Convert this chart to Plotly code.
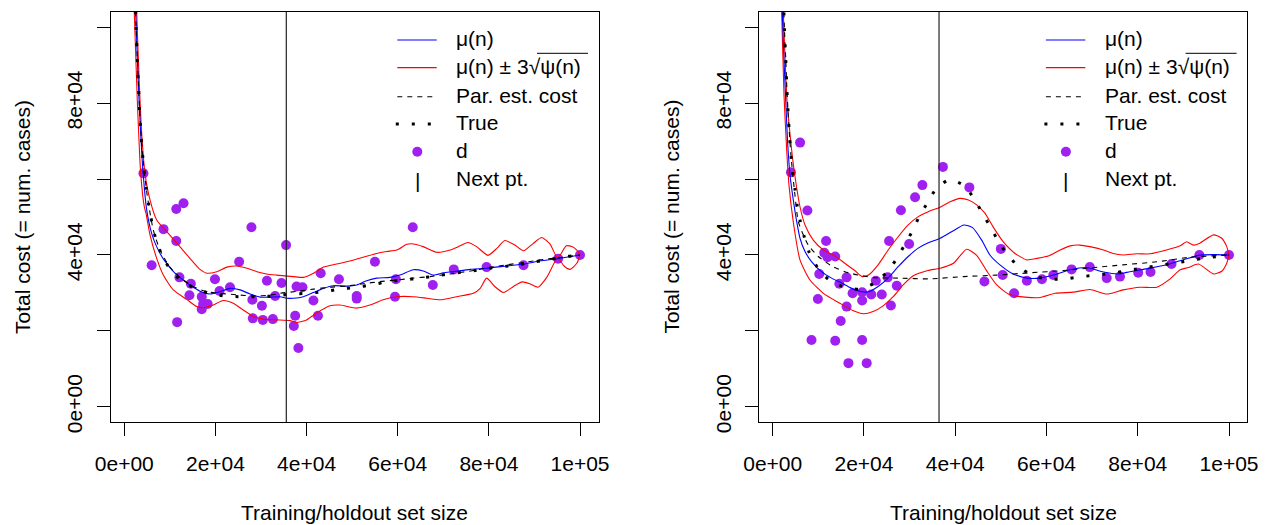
import plotly.graph_objects as go

# ---------------- left panel ----------------
l_pts_n = [4200, 6000, 8600, 11400, 13000, 11400, 11600, 12100, 14600, 14300, 17000, 17300,
           18300, 17000, 19900, 20900, 23200, 25200, 27900, 28100, 28200, 30200, 30400, 31300,
           32600, 33100, 34500, 35500, 37200, 37500, 37800, 39100, 38200, 41500, 42500, 43100,
           47100, 51000, 51000, 55000, 59400, 59600, 63300, 67700, 72300, 79500, 87600, 95200,
           100000]
l_pts_cost = [61500, 37300, 46800, 52100, 53600, 43700, 22300, 34100, 32400, 29400, 29000, 27100,
              27100, 25700, 33600, 30500, 31500, 38200, 47300, 28200, 23300, 26600, 22900, 33200,
              23100, 29200, 32600, 42600, 21300, 24000, 31700, 31500, 15500, 28000, 24000, 35200,
              33600, 29200, 28500, 38200, 29000, 33600, 47300, 32100, 36200, 36800, 37300, 39000,
              40000]

l_mu_n = [2000, 2500, 2850, 3160, 3510, 4040, 4900, 6000, 7100, 8600, 10800, 12900, 15100, 17300,
          18800, 21000, 23200, 25400, 27600, 29800, 32000, 34200, 35600, 37100, 39300, 41500,
          43700, 45900, 48800, 51000, 53200, 55400, 58300, 60500, 63400, 65600, 67800, 70000,
          72200, 75900, 79500, 83900, 87600, 91200, 94900, 100000]
l_mu = [126500, 104000, 92000, 83000, 74000, 63000, 52000, 45700, 42200, 38900, 35600, 33400,
        31500, 30100, 29700, 30300, 31200, 30800, 29700, 28900, 28900, 29000, 28600, 28600, 29000,
        30100, 31200, 31900, 31800, 32100, 33200, 33900, 34100, 34700, 36100, 35800, 34700, 35300,
        35600, 36200, 36500, 37100, 37600, 38400, 39000, 40000]

l_up_n = [2000, 2720, 3290, 3820, 4540, 5640, 7110, 10000, 12200, 14400, 16600, 18100, 20300,
          22500, 24700, 26900, 29100, 31200, 33400, 37100, 39300, 41500, 43700, 46600, 49500,
          52400, 55400, 57600, 59800, 62000, 63400, 65600, 68600, 71500, 73700, 75400, 77300,
          79800, 81800, 83500, 85700, 87600, 89700, 91600, 93400, 95100, 97000, 98200, 99300,
          100000]
l_up = [135000, 103900, 85200, 72000, 61500, 54500, 49200, 45200, 42200, 39100, 36200, 35200,
        35600, 36800, 37100, 36500, 35600, 35000, 34700, 34300, 34100, 35200, 36800, 37600, 38400,
        39400, 40400, 40900, 41300, 42800, 42900, 42200, 40700, 41300, 42400, 43300, 42200, 39900,
        41800, 43800, 42600, 41100, 43000, 44600, 42900, 39200, 42400, 42200, 41300, 40000]

l_lo_n = [1900, 2190, 2850, 3600, 4390, 4760, 5640, 7110, 8560, 10750, 13700, 15900, 17300, 19500,
          21700, 23900, 26100, 28300, 30500, 33400, 36400, 37800, 40000, 42200, 45100, 47300,
          51000, 53900, 56800, 59800, 63400, 66400, 69300, 72900, 76600, 78100, 79500, 81300,
          83200, 85400, 87300, 89000, 90800, 92700, 95100, 96500, 97800, 99300, 100000]
l_lo = [112000, 103900, 80800, 61500, 52700, 51000, 45300, 39100, 34700, 30800, 28300, 26400,
        26100, 26800, 28000, 27300, 25500, 23800, 23100, 22900, 22700, 22200, 22900, 24700, 26600,
        26800, 26000, 26800, 28200, 29000, 29000, 28600, 28200, 29000, 29900, 31200, 33900, 31700,
        30100, 31700, 32900, 32400, 31500, 34100, 39200, 37100, 36200, 37800, 40000]

l_par_n = [2000, 2570, 2850, 3160, 3510, 4040, 4830, 5350, 6360, 7830, 10000, 12200, 15100, 18100,
           21000, 24700, 28300, 32000, 34200, 37800, 41500, 45100, 48800, 52400, 56100, 59800,
           63400, 67100, 71500, 76600, 80200, 83900, 87600, 91200, 94900, 100000]
l_par = [125300, 100500, 91800, 83200, 74700, 66100, 57400, 53200, 46600, 41300, 36800, 34100,
         31700, 30300, 29900, 29500, 29200, 29400, 29900, 30400, 31000, 31500, 31800, 32400, 33000,
         33400, 33900, 34300, 35000, 35900, 36700, 37400, 38000, 38700, 39200, 40000]

l_true_n = [2000, 2570, 2850, 3160, 3510, 4040, 4830, 5350, 6010, 6800, 7990, 9740, 12100, 15000,
            18700, 22100, 25800, 29300, 32900, 36700, 40200, 43700, 47200, 50800, 54300, 57800,
            61200, 64900, 68600, 72200, 75900, 79300, 82900, 86500, 90100, 93800, 97200, 100000]
l_true = [125300, 100500, 91800, 83200, 74700, 66100, 57400, 53200, 48800, 44700, 40700, 36800,
          33600, 31500, 29900, 29200, 29000, 29000, 29200, 29700, 29900, 30300, 31000, 31500,
          32100, 33000, 33400, 33900, 34500, 35200, 35700, 36400, 36900, 37400, 38200, 38900,
          39600, 40000]

l_next = 35550

# ---------------- right panel ----------------
r_pts_n = [6000, 4000, 7600, 11700, 11300, 12000, 13700, 10200, 9900, 8500, 13700, 14900, 16200,
           16600, 14600, 16200, 17500, 19600, 19600, 21600, 19600, 20600, 22600, 23900, 25200,
           25900, 27200, 25500, 28100, 29900, 31200, 32800, 37300, 43100, 46400, 50000, 50400,
           52900, 55700, 59000, 61500, 65500, 69500, 73200, 76100, 80100, 82800, 87400, 93500,
           100000]
r_pts_cost = [69600, 61800, 51700, 43700, 40600, 39400, 39600, 35000, 28400, 17600, 17400, 22600,
              26400, 11500, 32400, 34100, 29900, 30200, 28000, 29600, 17600, 11500, 33200, 29600,
              34100, 26700, 31900, 43700, 51800, 42900, 55200, 58400, 63200, 57800, 33000, 41600,
              34700, 29900, 33200, 33600, 34700, 36200, 36800, 33900, 34300, 35300, 35500, 37600,
              40000, 40000]

r_mu_n = [1900, 2100, 2480, 2850, 3240, 3790, 4510, 5260, 5980, 7080, 8550, 10700, 12900, 15100,
          17300, 19500, 21000, 23100, 25300, 27500, 29700, 31900, 34100, 36700, 39600, 41900,
          43800, 45800, 47600, 49800, 52700, 55700, 58600, 61500, 65200, 68800, 72500, 75700,
          78300, 81200, 84200, 87100, 90000, 93300, 96600, 100000]
r_mu = [110000, 103900, 91300, 80800, 70300, 61100, 54500, 48800, 44400, 40900, 38200, 35600,
        33900, 32600, 31200, 30300, 30300, 31700, 33900, 36900, 39600, 41800, 43200, 44400, 46400,
        47900, 47200, 43900, 40000, 37400, 35000, 33900, 33900, 34700, 36100, 36700, 35500, 35000,
        35600, 36200, 36900, 37700, 38700, 39900, 40100, 40000]

r_up_n = [1900, 2320, 3130, 4160, 4890, 5980, 7080, 8900, 11100, 13700, 15800, 18000, 19600,
          21000, 23100, 25300, 27500, 29700, 31900, 34100, 36700, 38900, 41000, 42900, 44700,
          46500, 48300, 50500, 53100, 55700, 57900, 60400, 63000, 65200, 67300, 69500, 72500,
          74600, 76800, 79800, 82700, 86300, 89300, 90700, 92200, 93600, 96600, 98400, 99500,
          100000]
r_up = [118000, 103900, 80800, 67600, 60600, 52700, 47900, 43900, 41300, 39700, 37800, 35900,
        34300, 34700, 37400, 41300, 44800, 47900, 50100, 51400, 52600, 54000, 54900, 54500, 53200,
        51000, 47400, 43500, 40400, 38700, 39100, 39700, 41300, 42400, 42600, 42200, 41300, 40400,
        40000, 40300, 40300, 41300, 42400, 43500, 42600, 43100, 45300, 44400, 42200, 40000]

r_lo_n = [1800, 1970, 2480, 3070, 3570, 4510, 5980, 8170, 11100, 14700, 17700, 19900, 22000,
          24200, 26400, 28600, 30800, 34000, 36700, 39600, 41000, 42500, 44700, 46900, 49100,
          52000, 55300, 58600, 61900, 65900, 69500, 73200, 76800, 80500, 84200, 87100, 89300,
          91100, 93300, 96600, 98400, 99500, 100000]
r_lo = [112000, 103900, 82100, 67600, 58400, 48700, 38700, 33400, 29900, 27300, 25300, 24500,
        25100, 26600, 29000, 32100, 34500, 35900, 36500, 37800, 39700, 41500, 39900, 35800, 32100,
        29500, 28900, 28800, 29900, 30200, 30900, 29700, 30800, 31500, 31500, 33700, 36100, 36700,
        37600, 35000, 35700, 37800, 40000]

r_par_n = [2000, 2540, 2850, 3130, 3510, 4010, 4730, 5610, 6710, 7800, 9990, 12900, 15800, 18800,
           22400, 27500, 34500, 41800, 49100, 56400, 63700, 70600, 76800, 84200, 91500, 100000]
r_par = [125000, 100500, 91800, 83200, 74700, 66100, 57400, 48800, 45300, 42600, 39600, 37100,
         35600, 34700, 34000, 33900, 33700, 34300, 34700, 35300, 35900, 36700, 37400, 38200,
         39400, 40000]

r_true_n = [2000, 2540, 2850, 3130, 3510, 4010, 4380, 4890, 5390, 6050, 6930, 8020, 9770, 12200,
            15300, 18900, 22300, 24800, 27000, 28800, 30600, 32100, 34000, 35900, 38900, 42000,
            44200, 45900, 47800, 49500, 51500, 54000, 57100, 60600, 64100, 67700, 71100, 74800,
            78300, 82000, 85500, 88900, 92500, 96200, 100000]
r_true = [125000, 100500, 91800, 83200, 74700, 66100, 61700, 57300, 52800, 48800, 44700, 40600,
          36800, 33600, 31700, 31000, 32600, 35200, 38700, 42400, 46300, 50100, 53900, 57600,
          59900, 58200, 54700, 51100, 47200, 43500, 40000, 36800, 34500, 33600, 33700, 34300,
          34700, 35300, 36000, 36700, 37400, 38000, 38800, 39400, 40000]

r_next = 36450

# ---------------- axes and labels ----------------
x_tick_vals = [0, 20000, 40000, 60000, 80000, 100000]
x_tick_text = ["0e+00", "2e+04", "4e+04", "6e+04", "8e+04", "1e+05"]
y_tick_vals = [0, 20000, 40000, 60000, 80000, 100000]
y_tick_text = ["0e+00", "", "4e+04", "", "8e+04", ""]

x_title = "Training/holdout set size"
y_title = "Total cost (= num. cases)"
NB = "\u00a0"
legend_labels = ["μ(n)", "μ(n)" + NB + "±" + NB + "3√ψ(n)", "Par. est. cost", "True", "d",
                 "Next pt."]

W, H = 1266, 525
FONT = "Liberation Sans, Arial, Helvetica, sans-serif"
FS = 21
PURPLE = "#A020F0"

BOX_TOP, BOX_BOT = 12.0, 422.0
Y_RANGE = [-4000, 104000]
panels = [
    dict(left=110.7, right=599.0, xr=[-2984, 104168],
         pts=(l_pts_n, l_pts_cost), mu=(l_mu_n, l_mu), up=(l_up_n, l_up), lo=(l_lo_n, l_lo),
         par=(l_par_n, l_par), true=(l_true_n, l_true), nxt=l_next),
    dict(left=759.3, right=1247.0, xr=[-2937, 103943],
         pts=(r_pts_n, r_pts_cost), mu=(r_mu_n, r_mu), up=(r_up_n, r_up), lo=(r_lo_n, r_lo),
         par=(r_par_n, r_par), true=(r_true_n, r_true), nxt=r_next),
]

DOTS = "3px,13px"


def px(x):
    return x / W


def py(y):
    return 1 - y / H


fig = go.Figure()
shapes, annotations = [], []
layout = {}

for i, p in enumerate(panels):
    sfx = "" if i == 0 else str(i + 1)
    xa, ya = "x" + sfx, "y" + sfx
    common = dict(showgrid=False, zeroline=False, showline=True, mirror=True,
                  linecolor="black", linewidth=1, ticks="outside", ticklen=13,
                  tickwidth=1, tickcolor="black", automargin=False,
                  tickfont=dict(family=FONT, size=FS, color="black"))
    layout["xaxis" + sfx] = dict(domain=[px(p["left"]), px(p["right"])], range=p["xr"],
                                 anchor=ya, tickvals=x_tick_vals, ticktext=x_tick_text,
                                 ticklabelstandoff=10, **common)
    layout["yaxis" + sfx] = dict(domain=[py(BOX_BOT), py(BOX_TOP)], range=Y_RANGE,
                                 anchor=xa, tickvals=y_tick_vals, ticktext=y_tick_text,
                                 tickangle=-90, ticklabelstandoff=6, **common)

    # observed costs
    fig.add_trace(go.Scatter(x=p["pts"][0], y=p["pts"][1], mode="markers", xaxis=xa, yaxis=ya,
                             marker=dict(color=PURPLE, size=10, line=dict(width=0)),
                             showlegend=False, hoverinfo="skip"))
    # GP band, mean, parametric estimate, true cost
    for key, color, dash, width in [("up", "#FF0000", "solid", 1.1), ("lo", "#FF0000", "solid", 1.1),
                                    ("mu", "#0000FF", "solid", 1.1),
                                    ("par", "black", "5px,5px", 1.1),
                                    ("true", "black", DOTS, 3.0)]:
        fig.add_trace(go.Scatter(x=p[key][0], y=p[key][1], mode="lines", xaxis=xa, yaxis=ya,
                                 line=dict(color=color, width=width, dash=dash, shape="spline",
                                           smoothing=0.6),
                                 showlegend=False, hoverinfo="skip"))
    # next sampling point
    shapes.append(dict(type="line", xref=xa, yref=ya + " domain", x0=p["nxt"], x1=p["nxt"],
                       y0=0, y1=1, line=dict(color="#222222", width=1.2)))

    # axis titles
    cx = (p["left"] + p["right"]) / 2
    annotations.append(dict(text=x_title, x=px(cx), y=py(512), xref="paper", yref="paper",
                            showarrow=False, xanchor="center", yanchor="middle",
                            font=dict(family=FONT, size=FS, color="black")))
    annotations.append(dict(text=y_title, x=px(p["left"] - 88.7), y=py((BOX_TOP + BOX_BOT) / 2),
                            xref="paper", yref="paper", showarrow=False, textangle=-90,
                            xanchor="center", yanchor="middle",
                            font=dict(family=FONT, size=FS, color="black")))

    # legend (drawn without a frame)
    dx = p["left"] - 110.7
    rows = [40, 67.7, 96.7, 124, 151.7, 180]
    sx0, sx1, tx = 397.3 + dx, 436.7 + dx, 454 + dx
    shapes.append(dict(type="line", xref="paper", yref="paper", x0=px(sx0), x1=px(sx1),
                       y0=py(rows[0]), y1=py(rows[0]), line=dict(color="#0000FF", width=1.2)))
    shapes.append(dict(type="line", xref="paper", yref="paper", x0=px(sx0), x1=px(sx1),
                       y0=py(rows[1]), y1=py(rows[1]), line=dict(color="#FF0000", width=1.2)))
    shapes.append(dict(type="line", xref="paper", yref="paper", x0=px(sx0), x1=px(sx1),
                       y0=py(rows[2]), y1=py(rows[2]),
                       line=dict(color="black", width=1.1, dash="5px,5px")))
    shapes.append(dict(type="line", xref="paper", yref="paper", x0=px(sx0 - 1.5),
                       x1=px(sx1 - 3), y0=py(rows[3]), y1=py(rows[3]),
                       line=dict(color="black", width=3.0, dash=DOTS)))
    shapes.append(dict(type="circle", xref="paper", yref="paper", x0=px(417.3 + dx - 5),
                       x1=px(417.3 + dx + 5), y0=py(rows[4] + 5), y1=py(rows[4] - 5),
                       fillcolor=PURPLE, line=dict(width=0)))
    annotations.append(dict(text="|", x=px(417 + dx), y=py(rows[5]), xref="paper", yref="paper",
                            showarrow=False, xanchor="center", yanchor="middle",
                            font=dict(family=FONT, size=FS, color="black")))
    for r, lab in zip(rows, legend_labels):
        annotations.append(dict(text=lab, x=px(tx), y=py(r - 1.5), xref="paper", yref="paper",
                                showarrow=False, xanchor="left", yanchor="middle",
                                font=dict(family=FONT, size=FS, color="black")))
    # bar of the square root sign
    shapes.append(dict(type="line", xref="paper", yref="paper", x0=px(537 + dx), x1=px(588 + dx),
                       y0=py(53.3), y1=py(53.3), line=dict(color="black", width=1)))

fig.update_layout(**layout)
fig.update_layout(width=W, height=H, margin=dict(l=0, r=0, t=0, b=0, pad=0),
                  paper_bgcolor="white", plot_bgcolor="white", showlegend=False,
                  shapes=shapes, annotations=annotations,
                  font=dict(family=FONT, size=FS, color="black"))

fig.write_html("out.html", config={"displayModeBar": False})
